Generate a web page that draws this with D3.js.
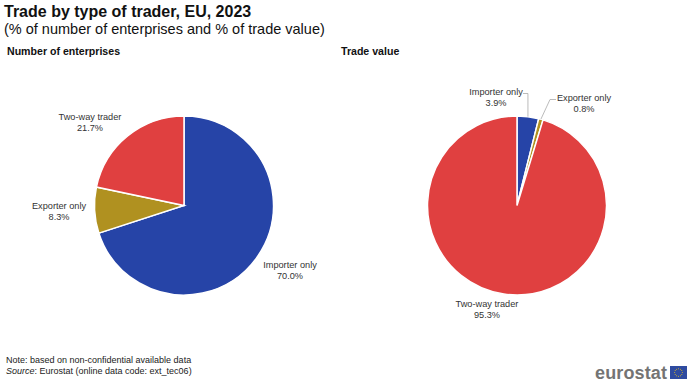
<!DOCTYPE html>
<html>
<head>
<meta charset="utf-8">
<script src="https://cdn.jsdelivr.net/npm/d3@7"></script>
<style>
  body { margin: 0; background: #fff; }
  svg { font-family: "Liberation Sans", Arial, sans-serif; }
</style>
</head>
<body>
<script>
// data
const categories = ["Importer only", "Exporter only", "Two-way trader"]
const enterprises = [70.0, 8.3, 21.7]
const tradeValue = [3.9, 0.8, 95.3]
const colors = ["#2644A7", "#B09120", "#E04040"]

const width = 700
const height = 387

const svg = d3.select("body").append("svg")
    .attr("width", width)
    .attr("height", height)

// titles
svg.append("text")
    .attr("x", 4).attr("y", 17)
    .style("font-size", "16px").style("font-weight", "bold")
    .attr("fill", "#111")
    .text("Trade by type of trader, EU, 2023")

svg.append("text")
    .attr("x", 4).attr("y", 34)
    .style("font-size", "14.5px")
    .attr("fill", "#111")
    .text("(% of number of enterprises and % of trade value)")

svg.append("text")
    .attr("x", 7).attr("y", 55)
    .style("font-size", "10.6px").style("font-weight", "bold")
    .attr("fill", "#111")
    .text("Number of enterprises")

svg.append("text")
    .attr("x", 341).attr("y", 55)
    .style("font-size", "10.6px").style("font-weight", "bold")
    .attr("fill", "#111")
    .text("Trade value")

const pie = d3.pie().sort(null).value(d => d)
const radius = 89.5
const arc = d3.arc().innerRadius(0).outerRadius(radius)

function drawPie(cx, cy, values, labels) {
    let g = svg.append("g").attr("transform", `translate(${cx}, ${cy})`)
    g.selectAll("path")
        .data(pie(values))
        .enter()
        .append("path")
        .attr("d", arc)
        .attr("fill", (d, i) => colors[i])
        .attr("stroke", "#fff")
        .attr("stroke-width", 1.5)

    labels.forEach(l => {
        let t = g.append("text")
            .attr("text-anchor", "middle")
            .style("font-size", "9.2px")
            .attr("fill", "#333")
        t.append("tspan").attr("x", l.x).attr("y", l.y).text(categories[l.i])
        t.append("tspan").attr("x", l.x).attr("y", l.y + 10.5)
            .text(values[l.i].toFixed(1) + "%")
        if (l.line) {
            g.append("polyline")
                .attr("points", l.line.map(p => p.join(",")).join(" "))
                .attr("fill", "none")
                .attr("stroke", "#aaa")
                .attr("stroke-width", 0.8)
        }
    })
}

// label positions relative to pie centre
drawPie(184, 205.5, enterprises, [
    {i: 2, x: -94, y: -85.5},
    {i: 1, x: -125, y: 3.5},
    {i: 0, x: 106, y: 62.5}
])

// small slices get leader lines towards the edge
const right = pie(tradeValue)
const edge = (d, r) => {
    let a = (d.startAngle + d.endAngle) / 2
    return [Math.sin(a) * r, -Math.cos(a) * r]
}
const e0 = edge(right[0], radius)
const e1 = edge(right[1], radius)

drawPie(517, 205.5, tradeValue, [
    {i: 0, x: -21, y: -110.5, line: [[6, -112], [e0[0], -112], e0]},
    {i: 1, x: 67, y: -104.5, line: [[39, -106], [33, -106], e1]},
    {i: 2, x: -30, y: 101.5}
])

// footnotes
svg.append("text")
    .attr("x", 6).attr("y", 363)
    .style("font-size", "9px").attr("fill", "#222")
    .text("Note: based on non-confidential available data")

let src = svg.append("text")
    .attr("x", 6).attr("y", 374)
    .style("font-size", "9px").attr("fill", "#222")
src.append("tspan").style("font-style", "italic").text("Source")
src.append("tspan").text(": Eurostat (online data code: ext_tec06)")

// eurostat logo
svg.append("text")
    .attr("x", 595).attr("y", 379)
    .style("font-size", "18px").style("font-weight", "bold")
    .attr("fill", "#747474")
    .attr("textLength", 72)
    .text("eurostat")

let flag = svg.append("g").attr("transform", "translate(670, 366)")
flag.append("rect").attr("width", 17).attr("height", 13).attr("fill", "#2f4ba0")
d3.range(12).forEach(k => {
    let a = k / 12 * Math.PI * 2
    flag.append("circle")
        .attr("cx", 8.5 + Math.cos(a) * 3.8)
        .attr("cy", 6.5 + Math.sin(a) * 3.8)
        .attr("r", 0.5)
        .attr("fill", "#e8c21c")
})
</script>
</body>
</html>
